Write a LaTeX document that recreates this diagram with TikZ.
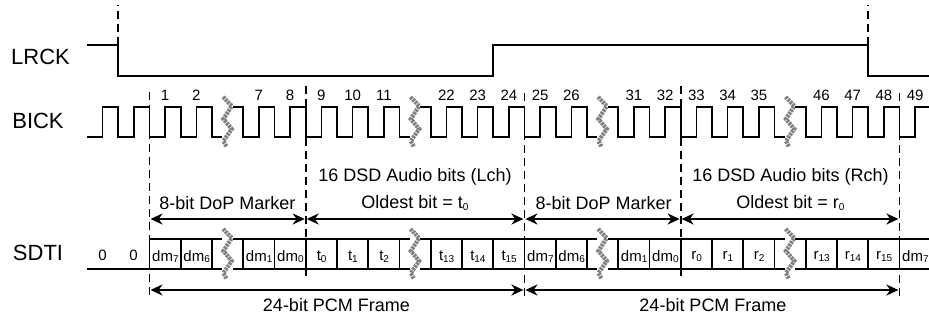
\documentclass[tikz,border=0pt]{standalone}
\usepackage{fontspec}
\setmainfont{Liberation Sans}
\usepackage{tikz}
\usetikzlibrary{arrows.meta}
\tikzset{
    wave/.style={line width=1.7pt, line join=miter},
    guide/.style={line width=1.8pt, dash pattern=on 8pt off 5pt},
    span/.style={{Stealth[length=12pt,width=11pt]}-{Stealth[length=12pt,width=11pt]}, line width=2.3pt, shorten <=1pt, shorten >=1pt},
    signame/.style={font=\fontsize{22}{24}\selectfont, inner sep=0pt},
    bitno/.style={font=\fontsize{15}{17}\selectfont, inner sep=0pt},
    celltxt/.style={font=\fontsize{15}{17}\selectfont, inner sep=0pt},
    spantxt/.style={font=\fontsize{18}{20}\selectfont, inner sep=0pt},
    breakmark/.pic={
        \fill[white] (-5.2,-26) rectangle (5.2,26);
        \draw[line width=4.2pt, black!50, dash pattern=on 2.4pt off 0.9pt] (-4.5,-25) -- (4.2,-16) -- (-4.2,-3) -- (4.2,7) -- (-4.2,19) -- (-1,25);
    }
}
\newcommand{\bitsub}[1]{\raisebox{-1.5pt}{\fontsize{10}{10}\selectfont #1}}
\begin{document}
\begin{tikzpicture}[x=1pt, y=-1pt]
    \useasboundingbox (0,0) rectangle (929,320);
    % Signal names
    \node[signame] (lrck) at (40.5,57)  {LRCK};
    \node[signame] (bick) at (38,121)   {BICK};
    \node[signame] (sdti) at (38,253)   {SDTI};
    % Waveforms
    \draw[wave] (87,44.7) -- (118,44.7) -- (118,76) -- (493,76) -- (493,44.7) -- (868,44.7) -- (868,76) -- (929,76);
    \draw[wave] (87,137) -- (102.6,137) -- (102.6,106.7)
        \foreach \k in {-1,...,24} { -- ({149.5+\k*31.25},106.7) -- ({149.5+\k*31.25},137) -- ({165.1+\k*31.25},137) -- ({165.1+\k*31.25},106.7)} -- (929,106.7);
    % Data cells
    \draw[wave] (149.5,239) -- (929,239); \draw[wave] (87,269) -- (929,269);
    \foreach \k in {0,...,24} { \draw[wave] ({149.5+\k*31.25},239) -- ({149.5+\k*31.25},269); }
    % Breaks
    \foreach \k/\bx in {a/227.6,b/415,c/602.6,d/790.1} {
        \pic (brk\k) at (\bx,122) {breakmark}; \pic (brs\k) at (\bx,254) {breakmark};
    }
    % Guide lines
    \coordinate (lt) at (118,5);    \coordinate (lb) at (118,44);
    \coordinate (rt) at (868,5);    \coordinate (rb) at (868,44);
    \coordinate (g0t) at (149.5,92);  \coordinate (g0b) at (149.5,300);
    \coordinate (g1t) at (305.7,86);  \coordinate (g1b) at (305.7,280);
    \coordinate (g2t) at (524.4,93);  \coordinate (g2b) at (524.4,300);
    \coordinate (g3t) at (680.6,86);  \coordinate (g3b) at (680.6,280);
    \coordinate (g4t) at (899.4,93);  \coordinate (g4b) at (899.4,300);
    \draw[guide, dash phase=7pt] (lt) -- (lb); \draw[guide, dash phase=7pt] (rt) -- (rb);
    \foreach \g in {0,...,4} { \draw[guide] (g\g t) -- (g\g b); }
    % Bit numbers
    \foreach \k/\n in {0/1,1/2,3/7,4/8,5/9,6/10,7/11,9/22,10/23,11/24,12/25,13/26,15/31,16/32,17/33,18/34,19/35,21/46,22/47,23/48,24/49} {
        \node[bitno] (no\n) at ({165.1+\k*31.25},95) {\n};
    }
    % Cell texts
    \node[celltxt] (zeroa) at (102.5,255) {0};
    \node[celltxt] (zerob) at (133.5,255) {0};
    \foreach \k/\t/\s in {0/dm/7,1/dm/6,3/dm/1,4/dm/0,5/t/0,6/t/1,7/t/2,9/t/13,10/t/14,11/t/15,12/dm/7,13/dm/6,15/dm/1,16/dm/0,17/r/0,18/r/1,19/r/2,21/r/13,22/r/14,23/r/15,24/dm/7} {
        \node[celltxt] (cell\k) at ({165.4+\k*31.25},256.5) {\t\bitsub{\s}};
    }
    % Spans
    \coordinate (m0) at (149.5,219); \coordinate (m1) at (305.7,219); \coordinate (m2) at (524.4,219); \coordinate (m3) at (680.6,219); \coordinate (m4) at (899.4,219);
    \coordinate (f0) at (149.5,290); \coordinate (f2) at (524.4,290); \coordinate (f4) at (899.4,290);
    \draw[span] (m0) -- (m1); \draw[span] (m1) -- (m2); \draw[span] (m2) -- (m3); \draw[span] (m3) -- (m4);
    \draw[span] (f0) -- (f2); \draw[span] (f2) -- (f4);
    % Span labels
    \node[spantxt] (dopa) at (227.5,203) {8-bit DoP Marker};
    \node[spantxt] (dopb) at (603.7,203) {8-bit DoP Marker};
    \node[spantxt] (dsdl) at (415,177)   {16 DSD Audio bits (Lch)};
    \node[spantxt] (oldl) at (415,203)   {Oldest bit = t\bitsub{0}};
    \node[spantxt] (dsdr) at (790.5,177) {16 DSD Audio bits (Rch)};
    \node[spantxt] (oldr) at (790.5,203) {Oldest bit = r\bitsub{0}};
    \node[spantxt] (pcma) at (336.5,305) {24-bit PCM Frame};
    \node[spantxt] (pcmb) at (713,305)   {24-bit PCM Frame};
\end{tikzpicture}
\end{document}
